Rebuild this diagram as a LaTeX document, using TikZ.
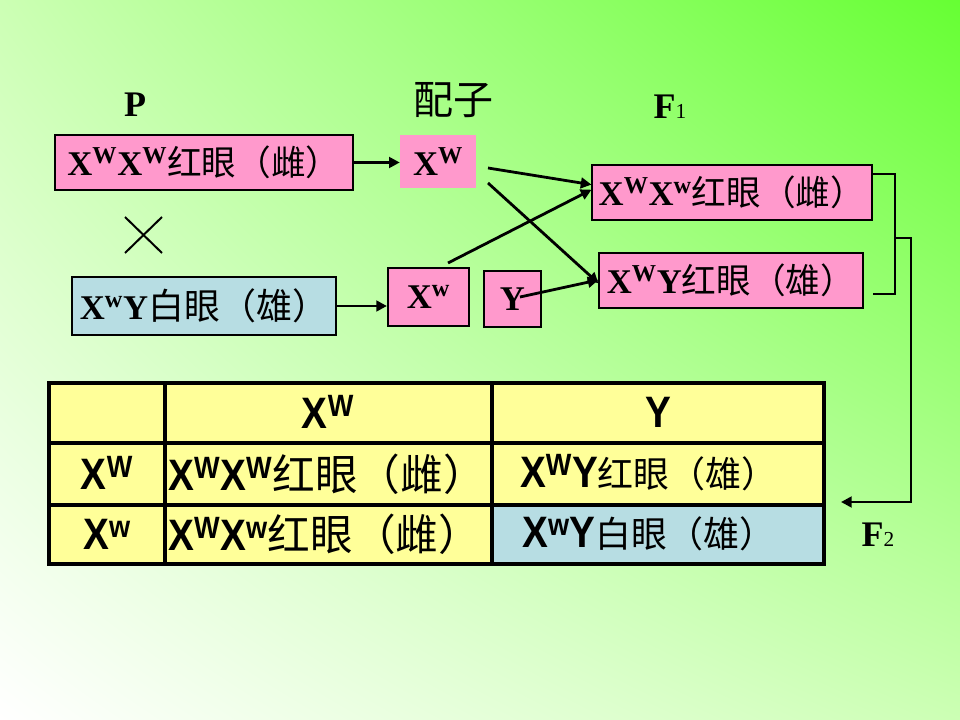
\documentclass[tikz,border=0pt]{standalone}
\usepackage{fontspec}
\setmainfont{Liberation Serif}
\newfontfamily\cjk{Noto Sans CJK SC}
\newfontfamily\tabfont{Liberation Sans}[FakeStretch=0.88]
\usetikzlibrary{positioning, arrows.meta, calc, shadings}

\definecolor{boxpink}{HTML}{FF99CC}
\definecolor{boxblue}{HTML}{B7DDE3}
\definecolor{cellyellow}{HTML}{FFFF99}
\definecolor{bggreen}{HTML}{66FF33}
\definecolor{bgpale}{HTML}{CCFFB4}

\newcommand{\zh}[1]{{\cjk\mdseries #1}}
\newcommand{\zhs}[2]{{\cjk\mdseries\fontsize{#1}{#1}\selectfont #2}}
\newcommand{\sW}{\textsuperscript{W}}
\newcommand{\sw}{\textsuperscript{w}}

\begin{document}
\begin{tikzpicture}[
    x=0.75pt, y=-0.75pt,
    every node/.style={font=\bfseries\fontsize{26}{30}\selectfont, inner sep=0pt},
    pinkbox/.style={draw=black, line width=0.8pt, fill=boxpink},
    thickbox/.style={pinkbox, line width=1.6pt},
    plainbox/.style={fill=boxpink},
    bluebox/.style={draw=black, line width=1.6pt, fill=boxblue},
    stage/.style={font=\bfseries\fontsize{27}{30}\selectfont},
    arrow/.style={-{Triangle[length=8pt, width=8pt]}, line width=2.1pt},
    bracket/.style={line width=2.1pt},
    tabline/.style={line width=2.3pt},
    cell/.style={font=\tabfont\bfseries\fontsize{33}{36}\selectfont}
]

% === BACKGROUND ===
\shade[upper right=bggreen, lower left=white, upper left=bgpale, lower right=bgpale]
    (0,0) rectangle (960,720);

% === HEADINGS ===
\node[stage] (p) at (135,105) {P};
\node[stage] (gam) at (453,100) {\zhs{30}{配子}};
\node[stage] (f1) at (670,107) {F{\mdseries\fontsize{16}{16}\selectfont 1}};

% === PARENTS ===
\node[pinkbox, minimum width=223.5pt, minimum height=41.25pt] (pf) at (204,162.5)
    {X\sW X\sW\zh{红眼（雌）}};
\node[bluebox, minimum width=198pt, minimum height=43.5pt] (pm) at (204,306)
    {X\sw Y\zhs{27}{白眼（雄）}};

% cross sign
\draw[line width=1.5pt] (125,217) -- (162,253) (125,253) -- (162,217);

% === GAMETES ===
\node[plainbox, minimum width=57pt, minimum height=39.75pt] (ga) at (438,161.5) {X\sW};
\node[thickbox, minimum width=60.75pt, minimum height=43.5pt] (gb) at (428.5,297) {X\sw};
\node[thickbox, minimum width=42.75pt, minimum height=42pt] (gy) at (512.5,299) {Y};

\draw[arrow] (pf.east) -- (pf.east -| ga.west);
\draw[arrow] (pm.east) -- (pm.east -| gb.west);

% === F1 ===
\node[pinkbox, minimum width=210pt, minimum height=41.25pt] (ff) at (732,192.5)
    {X\sW X\sw\zh{红眼（雌）}};
\node[pinkbox, minimum width=198pt, minimum height=41.25pt] (fm) at (731,280.5)
    {X\sW Y\zh{红眼（雄）}};

\coordinate (ga1) at (488,168);
\coordinate (ga2) at (488,183);
\coordinate (gb1) at (448,263);
\coordinate (gy1) at (520,297);

\draw[arrow] (ga1) -- ($(ff.north west)!0.36!(ff.south west)$);
\draw[arrow] (ga2) -- ($(fm.north west)!0.55!(fm.south west)$);
\draw[arrow] (gb1) -- ($(ff.north west)!0.45!(ff.south west)$);
\draw[arrow] (gy1) -- ($(fm.north west)!0.49!(fm.south west)$);

% bracket and arrow down to F2
\coordinate (ffr) at (872,174);
\coordinate (fmr) at (873,294);
\coordinate (tap) at (895,238);
\coordinate (f2in) at (841,502);
\draw[bracket] (ffr) -- (895,174) -- (895,294) -- (fmr);
\draw[arrow] (tap) -- (911,238) -- (911,502) -- (f2in);

\node[stage] (f2) at (878,535) {F{\mdseries\fontsize{16}{16}\selectfont 2}};

% === F2 TABLE ===
\fill[cellyellow] (49,383) rectangle (824,564);
\fill[boxblue] (492,505) rectangle (824,564);
\draw[tabline] (49,383) rectangle (824,564);
\draw[tabline] (49,443) -- (824,443) (49,505) -- (824,505);
\draw[tabline] (165,383) -- (165,564) (492,383) -- (492,564);

\node[cell] (h1) at (328,412) {X\sW};
\node[cell] (h2) at (658,412) {Y};
\node[cell] (r1) at (107,473) {X\sW};
\node[cell] (r2) at (107,534) {X\sw};
\node[cell, anchor=west] (c11) at (168,474) {X\sW X\sW\zhs{32}{红眼（雌）}};
\node[cell] (c12) at (649,473) {X\sW Y\zhs{27}{红眼（雄）}};
\node[cell, anchor=west] (c21) at (168,534) {X\sW X\sw\zhs{32}{红眼（雌）}};
\node[cell] (c22) at (649,534) {X\sw Y\zhs{27}{白眼（雄）}};

\end{tikzpicture}
\end{document}
